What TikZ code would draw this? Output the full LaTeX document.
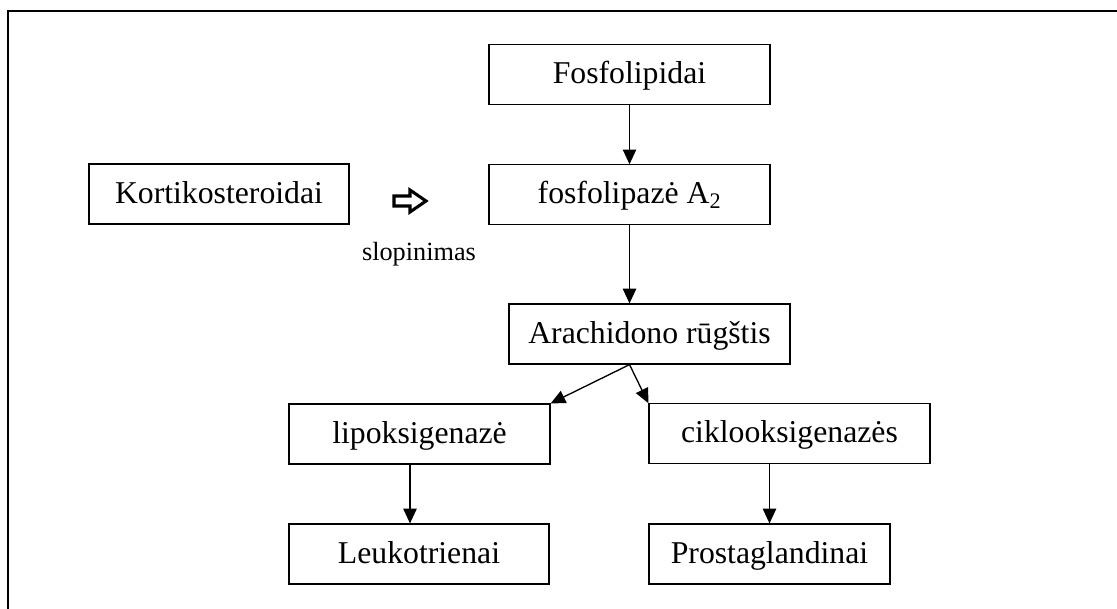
\documentclass[tikz,border=0pt]{standalone}
\usepackage{fontspec}
\setmainfont{Liberation Serif}
\usetikzlibrary{arrows.meta,calc}
\newcommand{\mainsize}{\fontsize{23.8}{28}\selectfont}
\newcommand{\smallsz}{\fontsize{19.7}{23}\selectfont}
\begin{document}
\begin{tikzpicture}[x=0.75pt,y=-0.75pt,
  box/.style={draw, line width=0.9pt, minimum height=44.5pt, inner sep=0pt,
    text height=16pt, text depth=2.5pt, font=\mainsize},
  arr/.style={-{Triangle[length=11pt,width=10pt]}, line width=1pt},
  framel/.style={line width=1.7pt}]
\useasboundingbox (0,0) rectangle (1117,608);
\draw[framel] (8,620) -- (8,10.7) -- (1130,10.7);

\node[box, minimum width=210.75pt] (fosfo) at (629.5,74.5) {Fosfolipidai};
\node[box, minimum width=210.75pt] (fosfa) at (629.5,194.5) {fosfolipazė A\textsubscript{2}};
\node[box, minimum width=195pt, minimum height=45pt] (korti) at (219,194) {Kortikosteroidai};
\node[box, minimum width=210.75pt, minimum height=45pt] (arach) at (649.5,334) {Arachidono rūgštis};
\node[box, minimum width=195.75pt, minimum height=45pt] (lipo) at (419.5,434) {lipoksigenazė};
\node[box, minimum width=210.75pt] (ciklo) at (789.5,433.5) {ciklooksigenazės};
\node[box, minimum width=195pt, minimum height=45pt] (leuko) at (419,554) {Leukotrienai};
\node[box, minimum width=180.75pt, minimum height=45pt] (prosta) at (769.5,554) {Prostaglandinai};

\node[font=\smallsz, anchor=base, inner sep=0pt] (slop) at (419,260) {slopinimas};

\coordinate (inh) at (410,201);
\draw[line width=2.3pt, fill=white, line join=miter]
  ($(inh)+(-16,-5)$) -- ($(inh)+(0,-5)$) -- ($(inh)+(0,-11)$) -- ($(inh)+(16,0)$)
  -- ($(inh)+(0,11)$) -- ($(inh)+(0,5)$) -- ($(inh)+(-16,5)$) -- cycle;

\draw[arr] (fosfo.south) -- (fosfa.north);
\draw[arr] (fosfa.south) -- (fosfa.south |- arach.north);
\coordinate (split) at (fosfa.south |- arach.south);
\draw[arr] (split) -- (lipo.north east);
\draw[arr] (split) -- (ciklo.north west);
\coordinate (lipoout) at ($(lipo.south)+(-9.5,0)$);
\coordinate (leukoin) at (lipoout |- leuko.north);
\draw[arr] (lipoout) -- (leukoin);
\draw[arr] (ciklo.south -| prosta.north) -- (prosta.north);
\end{tikzpicture}
\end{document}
